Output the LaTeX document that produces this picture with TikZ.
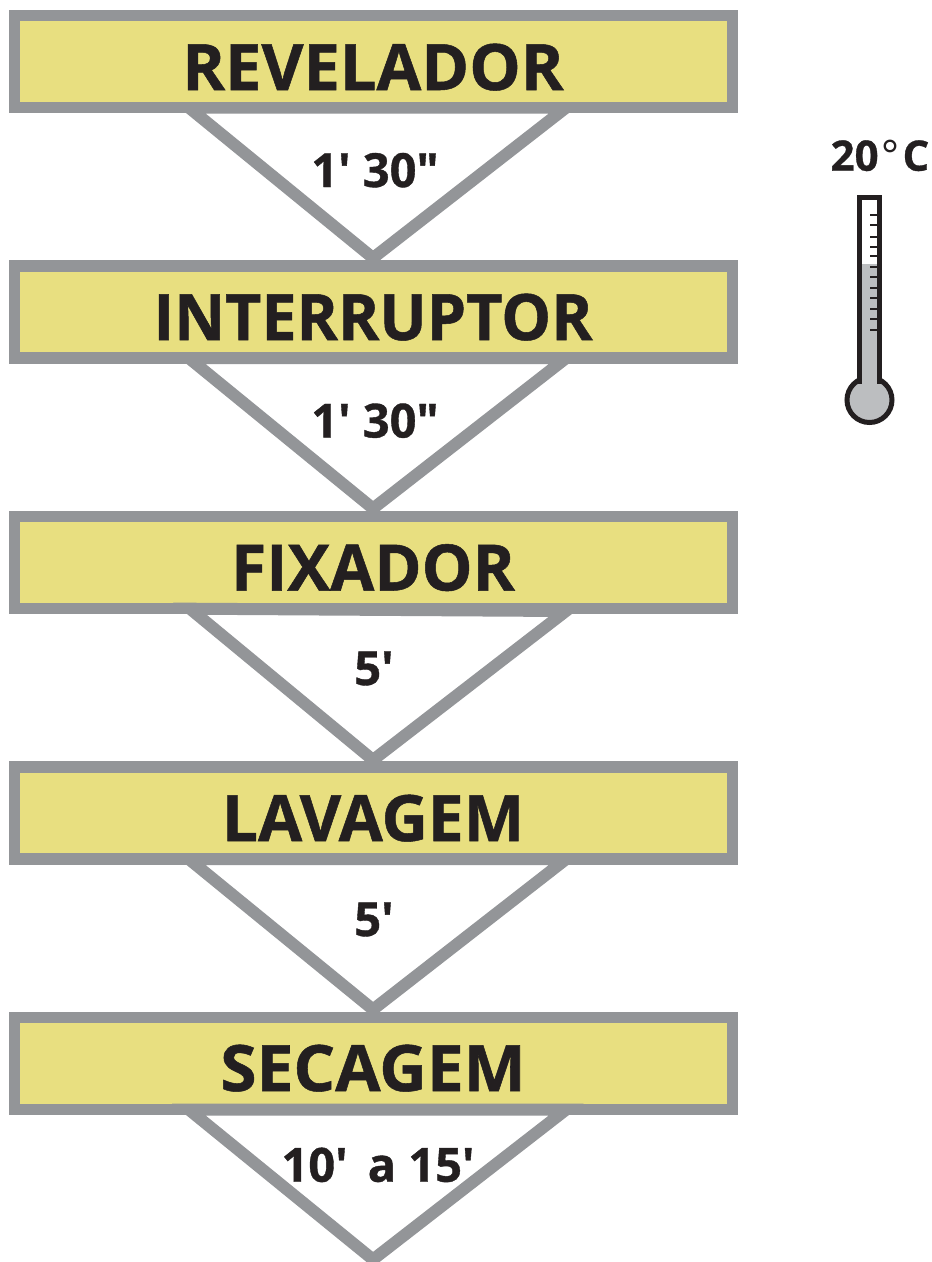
\documentclass[tikz,border=0pt]{standalone}
\usepackage{fontspec}
\newfontfamily\hv[BoldFeatures={FakeBold=0.8}]{Open Sans}
\definecolor{framegray}{HTML}{939598}
\definecolor{boxyellow}{HTML}{E8DF80}
\definecolor{inkdark}{HTML}{231F20}
\definecolor{fluid}{HTML}{BCBEC0}
\tikzset{
 x=1pt,y=-1pt,
 stagebox/.style={draw=framegray,line width=11.5pt,fill=boxyellow,minimum width=718pt,minimum height=92pt,inner sep=0pt,outer sep=0pt},
 stagetext/.style={text=inkdark,font=\hv\fontsize{64}{64}\bfseries,inner sep=0pt,anchor=base,transform shape},
 timetext/.style={text=inkdark,font=\hv\fontsize{47}{47}\bfseries,inner sep=0pt,anchor=base},
 tempstyle/.style={text=inkdark,font=\hv\fontsize{42}{42}\bfseries,inner sep=0pt,anchor=base},
 vee/.style={draw=framegray,line width=12pt,fill=white,miter limit=10},
 thermo/.style={draw=inkdark,line width=5pt,line join=miter},
 tick/.style={draw=inkdark,line width=2pt},
}
\begin{document}
\begin{tikzpicture}
\useasboundingbox (0,0) rectangle (932,1262);
\fill[white] (0,0) rectangle (932,1262);
% triangles hidden behind the boxes
\coordinate (t1) at (373,258);
\coordinate (t2) at (373,508.5);
\coordinate (t3) at (373,760);
\coordinate (t4) at (373,1009.5);
\coordinate (t5) at (373,1259.5);
\draw[vee] (189,107.7) -- (t1) -- (566,107.7) -- cycle;
\draw[vee] (189,358.2) -- (t2) -- (566,358.2) -- cycle;
\draw[vee] (189,859.2) -- (t4) -- (566,859.2) -- cycle;
% boxes
\node[stagebox] (a) at (373.25,61.25) {};
\node[stagebox] (b) at (373.25,311.75) {};
\node[stagebox] (c) at (373.25,562.25) {};
\node[stagebox] (d) at (373.25,812.75) {};
\node[stagebox] (e) at (373.25,1063.25) {};
% triangles lying over the boxes
\draw[vee] (190,608.7) -- (t3) -- (566,611) -- cycle;
\draw[vee] (189,1109.7) -- (t5) -- (566,1109.7) -- cycle;
\node[stagetext,xscale=1.013] (la) at (373,90) {REVELADOR};
\node[stagetext,xscale=.98] (lb) at (373,340) {INTERRUPTOR};
\node[stagetext] (lc) at (373,590.5) {FIXADOR};
\node[stagetext] (ld) at (373,841) {LAVAGEM};
\node[stagetext,xscale=1.027] (le) at (373,1091) {SECAGEM};
\node[timetext] (ta) at (375,187) {1' 30"};
\node[timetext] (tb) at (375,437.5) {1' 30"};
\node[timetext] (tc) at (374,685) {5'};
\node[timetext] (td) at (374,936) {5'};
\node[timetext] (te) at (378,1181.7) {10'\, a 15'};
\node[tempstyle] (temp) at (880,170.7) {20\kern3pt{\mdseries °}\kern3pt C};
% thermometer
\draw[thermo,fill=fluid] (869.5,400) circle (22.5);
\draw[thermo] (859.3,384) -- (859.3,197) -- (879.8,197) -- (879.8,384);
\fill[fluid] (861.8,264) rectangle (877.3,388);
\foreach \yy in {215,225,236.7,246.7,256,266.7,277,287.7,298.3,309,319.3,330}{\draw[tick] (870,\yy) -- (877.3,\yy);}
\end{tikzpicture}
\end{document}
